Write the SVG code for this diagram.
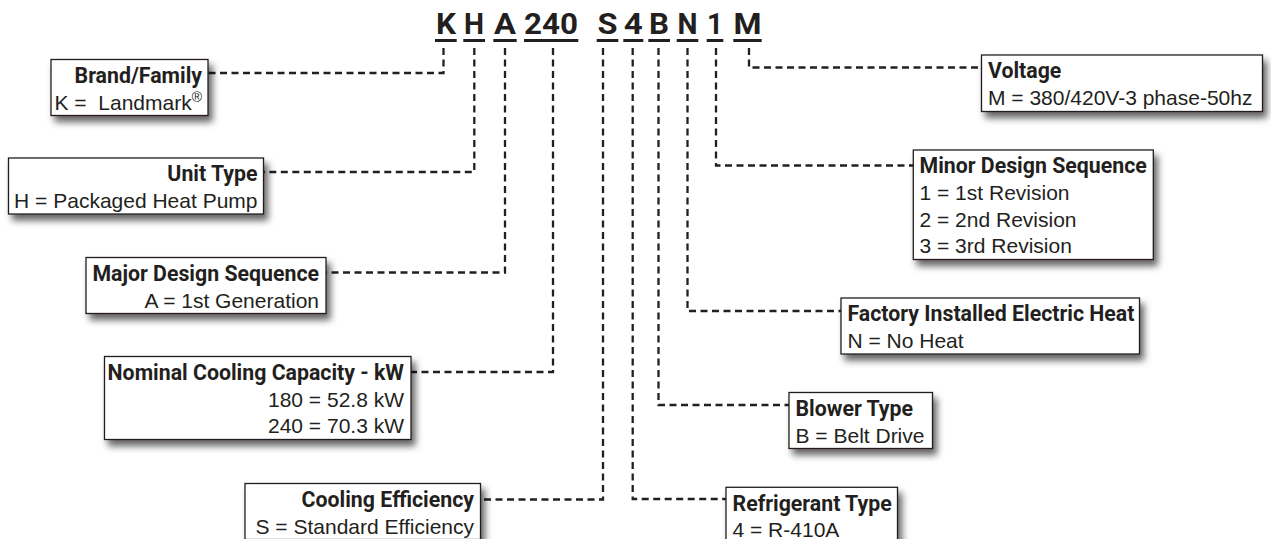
<svg xmlns="http://www.w3.org/2000/svg" width="1271" height="539" viewBox="0 0 1271 539">
<style>
.bg{fill:#fff}
.box{fill:#fff;stroke:#231f20;stroke-width:1.3;filter:url(#sh)}
.t{font-family:Roboto,"Liberation Sans",sans-serif;font-weight:700;font-size:21.3px;fill:#231f20}
.v{font-family:"Liberation Sans",Arial,sans-serif;font-size:21px;fill:#231f20}
.r{text-anchor:end}
.code{font-family:Roboto,"Liberation Sans",sans-serif;font-weight:700;font-size:29px;fill:#231f20;text-anchor:middle}
.ul{stroke:#231f20;stroke-width:3}
.c{fill:none;stroke:#231f20;stroke-width:2.3;stroke-dasharray:7 4.5}
</style>
<defs>
<filter id="sh" x="-10%" y="-20%" width="130%" height="170%">
<feDropShadow dx="4" dy="6" stdDeviation="3.5" flood-color="#000" flood-opacity="0.6"/>
</filter>
</defs>
<rect class="bg" x="0" y="0" width="1271" height="539"/>
<g id="code">
<text class="code" x="446" y="33.5" textLength="20" lengthAdjust="spacingAndGlyphs">K</text>
<text class="code" x="474" y="33.5" textLength="20" lengthAdjust="spacingAndGlyphs">H</text>
<text class="code" x="505" y="33.5" textLength="22" lengthAdjust="spacingAndGlyphs">A</text>
<text class="code" x="551" y="33.5" textLength="54" lengthAdjust="spacingAndGlyphs">240</text>
<text class="code" x="607.5" y="33.5" textLength="20" lengthAdjust="spacingAndGlyphs">S</text>
<text class="code" x="633.3" y="33.5" textLength="19" lengthAdjust="spacingAndGlyphs">4</text>
<text class="code" x="659" y="33.5" textLength="20" lengthAdjust="spacingAndGlyphs">B</text>
<text class="code" x="687.5" y="33.5" textLength="20" lengthAdjust="spacingAndGlyphs">N</text>
<text class="code" x="715" y="33.5" textLength="16" lengthAdjust="spacingAndGlyphs">1</text>
<text class="code" x="747.5" y="33.5" textLength="28" lengthAdjust="spacingAndGlyphs">M</text>
<line class="ul" x1="435" y1="40.5" x2="456.7" y2="40.5"/>
<line class="ul" x1="463.3" y1="40.5" x2="485" y2="40.5"/>
<line class="ul" x1="493.3" y1="40.5" x2="516.7" y2="40.5"/>
<line class="ul" x1="524" y1="40.5" x2="578.3" y2="40.5"/>
<line class="ul" x1="596.7" y1="40.5" x2="618.3" y2="40.5"/>
<line class="ul" x1="623.3" y1="40.5" x2="643.3" y2="40.5"/>
<line class="ul" x1="648.3" y1="40.5" x2="670" y2="40.5"/>
<line class="ul" x1="676.7" y1="40.5" x2="698.3" y2="40.5"/>
<line class="ul" x1="706.7" y1="40.5" x2="723.3" y2="40.5"/>
<line class="ul" x1="733.3" y1="40.5" x2="761.7" y2="40.5"/>
</g>
<g id="connectors">
<path class="c" d="M443.5 48 V73 H208"/>
<path class="c" d="M474.3 48 V172 H263.5"/>
<path class="c" d="M505 48 V272.5 H326"/>
<path class="c" d="M553 48 V372 H411"/>
<path class="c" d="M603 48 V499.5 H480.5"/>
<path class="c" d="M632.7 48 V499 H726"/>
<path class="c" d="M658.5 48 V405 H789"/>
<path class="c" d="M687.5 48 V311 H841"/>
<path class="c" d="M716 48 V165.5 H913.3"/>
<path class="c" d="M749 48 V67.5 H981.5"/>
</g>
<g id="brand">
<rect class="box" x="51" y="59.5" width="157" height="56"/>
<text class="t r" x="202" y="83">Brand/Family</text>
<text class="v r" x="202" y="109.5" xml:space="preserve">K =  Landmark<tspan font-size="14" dy="-8">®</tspan></text>
</g>
<g id="unit">
<rect class="box" x="8.5" y="158" width="255" height="56"/>
<text class="t r" x="257.5" y="181.3">Unit Type</text>
<text class="v r" x="257.5" y="208">H = Packaged Heat Pump</text>
</g>
<g id="major">
<rect class="box" x="86" y="257.5" width="240" height="56"/>
<text class="t r" x="319" y="281">Major Design Sequence</text>
<text class="v r" x="319" y="307.5">A = 1st Generation</text>
</g>
<g id="nominal">
<rect class="box" x="104.5" y="356.5" width="306.5" height="83"/>
<text class="t r" x="404" y="380">Nominal Cooling Capacity - kW</text>
<text class="v r" x="404" y="406.7">180 = 52.8 kW</text>
<text class="v r" x="404" y="433.4">240 = 70.3 kW</text>
</g>
<g id="cooling">
<rect class="box" x="245" y="483.5" width="235.5" height="56"/>
<text class="t r" x="474" y="507">Cooling Efficiency</text>
<text class="v r" x="474" y="533.5">S = Standard Efficiency</text>
</g>
<g id="voltage">
<rect class="box" x="981.5" y="55" width="281" height="56.5"/>
<text class="t" x="988" y="78.3">Voltage</text>
<text class="v" x="988" y="105">M = 380/420V-3 phase-50hz</text>
</g>
<g id="minor">
<rect class="box" x="913.3" y="150" width="240" height="109.5"/>
<text class="t" x="919.5" y="173.3">Minor Design Sequence</text>
<text class="v" x="919.5" y="200">1 = 1st Revision</text>
<text class="v" x="919.5" y="226.7">2 = 2nd Revision</text>
<text class="v" x="919.5" y="253.4">3 = 3rd Revision</text>
</g>
<g id="factory">
<rect class="box" x="841" y="298" width="298.5" height="56"/>
<text class="t" x="847.5" y="321.3">Factory Installed Electric Heat</text>
<text class="v" x="847.5" y="348">N = No Heat</text>
</g>
<g id="blower">
<rect class="box" x="789" y="392.5" width="143.5" height="56"/>
<text class="t" x="795.5" y="415.8">Blower Type</text>
<text class="v" x="795.5" y="442.5">B = Belt Drive</text>
</g>
<g id="refrigerant">
<rect class="box" x="726" y="487.3" width="171.5" height="56"/>
<text class="t" x="732.5" y="510.6">Refrigerant Type</text>
<text class="v" x="732.5" y="537.3">4 = R-410A</text>
</g>
</svg>
